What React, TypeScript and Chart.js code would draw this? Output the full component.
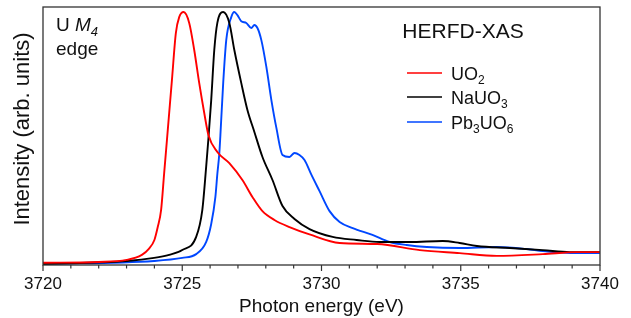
import React, { useEffect, useRef } from 'react';
import { Chart, registerables } from 'chart.js';

Chart.register(...registerables);

const FONT = '"Liberation Sans", Arial, Helvetica, sans-serif';

// ---- data ----
const uo2Energy = [3720.0, 3722.0, 3723.0, 3723.55, 3723.8, 3724.0, 3724.12, 3724.24, 3724.35, 3724.45, 3724.63, 3724.77, 3724.89, 3725.05, 3725.25, 3725.43, 3725.61, 3725.79, 3725.94, 3726.26, 3726.69, 3727.16, 3727.52, 3727.88, 3728.31, 3728.85, 3729.57, 3730.65, 3732.0, 3733.53, 3734.96, 3736.29, 3737.95, 3739.17, 3740.0];
const uo2Intensity = [0.009, 0.012, 0.02, 0.04, 0.064, 0.099, 0.15, 0.217, 0.362, 0.494, 0.732, 0.917, 0.98, 1.0, 0.957, 0.85, 0.719, 0.601, 0.514, 0.447, 0.403, 0.336, 0.269, 0.213, 0.178, 0.15, 0.121, 0.087, 0.083, 0.059, 0.047, 0.036, 0.043, 0.051, 0.051];

const nauo3Energy = [3720.0, 3723.02, 3723.99, 3724.53, 3725.0, 3725.5, 3725.72, 3725.86, 3725.94, 3726.04, 3726.15, 3726.26, 3726.47, 3726.69, 3726.87, 3727.12, 3727.34, 3727.59, 3727.88, 3728.24, 3728.6, 3729.03, 3729.57, 3730.4, 3731.26, 3732.09, 3733.17, 3734.35, 3734.96, 3735.58, 3736.76, 3737.95, 3738.92, 3740.0];
const nauo3Intensity = [0.004, 0.016, 0.028, 0.04, 0.059, 0.111, 0.217, 0.39, 0.5, 0.652, 0.85, 0.957, 1.0, 0.957, 0.85, 0.719, 0.613, 0.526, 0.427, 0.336, 0.233, 0.182, 0.142, 0.111, 0.099, 0.091, 0.091, 0.095, 0.087, 0.075, 0.067, 0.059, 0.051, 0.051];

const pb3uo6Energy = [3720.0, 3723.99, 3725.0, 3725.5, 3725.86, 3726.04, 3726.19, 3726.26, 3726.33, 3726.37, 3726.47, 3726.58, 3726.76, 3726.87, 3726.98, 3727.12, 3727.3, 3727.48, 3727.59, 3727.7, 3727.84, 3728.02, 3728.2, 3728.38, 3728.6, 3728.85, 3729.03, 3729.21, 3729.39, 3729.64, 3729.93, 3730.29, 3730.65, 3731.12, 3731.83, 3732.45, 3733.06, 3733.78, 3734.96, 3736.29, 3737.37, 3737.95, 3739.17, 3740.0];
const pb3uo6Intensity = [0.004, 0.016, 0.028, 0.043, 0.091, 0.162, 0.269, 0.36, 0.44, 0.514, 0.719, 0.889, 0.98, 1.0, 0.988, 0.964, 0.957, 0.937, 0.949, 0.937, 0.889, 0.783, 0.652, 0.542, 0.435, 0.427, 0.443, 0.435, 0.415, 0.356, 0.292, 0.213, 0.17, 0.146, 0.119, 0.091, 0.079, 0.071, 0.067, 0.071, 0.063, 0.055, 0.047, 0.047];

const seriesLabels = ['UO2', 'NaUO3', 'Pb3UO6'];
const seriesColors = ['#ff0000', '#000000', '#0047ff'];
const xMin = 3720;
const xMax = 3740;
const xMajorStep = 5;
const xMinorStep = 1;
const yMin = 0;
const yMax = 1.02;
const xTitle = 'Photon energy (eV)';
const yTitle = 'Intensity (arb. units)';
const plotTitle = 'HERFD-XAS';

type Seg = { t: string; it?: boolean; sub?: boolean };
const edgeLine1: Seg[] = [{ t: 'U ' }, { t: 'M', it: true }, { t: '4', it: true, sub: true }];
const edgeLine2: Seg[] = [{ t: 'edge' }];

function formulaSegs(s: string): Seg[] {
  const out: Seg[] = [];
  const re = /(\d+)|([^\d]+)/g;
  let m: RegExpExecArray | null;
  while ((m = re.exec(s))) out.push(m[1] ? { t: m[1], sub: true } : { t: m[2] });
  return out;
}

function drawSegs(ctx: CanvasRenderingContext2D, segs: Seg[], x: number, y: number, size: number, align: 'left' | 'center' = 'left') {
  const fontFor = (s: Seg) => `${s.it ? 'italic ' : ''}${s.sub ? Math.round(size * 0.68) : size}px ${FONT}`;
  let w = 0;
  for (const s of segs) {
    ctx.font = fontFor(s);
    w += ctx.measureText(s.t).width;
  }
  let cx = align === 'center' ? x - w / 2 : x;
  ctx.textAlign = 'left';
  ctx.textBaseline = 'alphabetic';
  for (const s of segs) {
    ctx.font = fontFor(s);
    ctx.fillText(s.t, cx, y + (s.sub ? size * 0.24 : 0));
    cx += ctx.measureText(s.t).width;
  }
}

const overlay = {
  id: 'overlay',
  afterDraw(chart: any) {
    const { ctx, chartArea: a } = chart;
    const xs = chart.scales.x;
    ctx.save();
    // frame
    ctx.strokeStyle = '#333';
    ctx.lineWidth = 1.3;
    ctx.strokeRect(a.left, a.top, a.right - a.left, a.bottom - a.top);
    // ticks
    ctx.lineWidth = 1.2;
    for (const t of xs.ticks) {
      const v = t.value;
      const px = xs.getPixelForValue(v);
      const major = Math.abs(v / xMajorStep - Math.round(v / xMajorStep)) < 1e-6;
      ctx.beginPath();
      ctx.moveTo(px, a.bottom);
      ctx.lineTo(px, a.bottom + (major ? 6 : 3.5));
      ctx.stroke();
    }
    // y title
    ctx.fillStyle = '#111';
    ctx.save();
    ctx.translate(23, 129);
    ctx.rotate(-Math.PI / 2);
    ctx.font = `22px ${FONT}`;
    ctx.textAlign = 'center';
    ctx.textBaseline = 'middle';
    ctx.fillText(yTitle, 0, 0);
    ctx.restore();
    // annotations
    drawSegs(ctx, edgeLine1, 56, 31, 19);
    drawSegs(ctx, edgeLine2, 56, 55, 19);
    drawSegs(ctx, [{ t: plotTitle }], 463, 38, 21, 'center');
    // legend
    const rows = [73, 97, 122];
    chart.data.datasets.forEach((ds: any, i: number) => {
      const ry = rows[i];
      ctx.strokeStyle = ds.borderColor;
      ctx.lineWidth = 1.6;
      ctx.beginPath();
      ctx.moveTo(407, ry);
      ctx.lineTo(442, ry);
      ctx.stroke();
      ctx.fillStyle = '#111';
      drawSegs(ctx, formulaSegs(ds.label), 451, ry + 6.5, 18);
    });
    ctx.restore();
  },
};

export default function App() {
  const ref = useRef<HTMLCanvasElement | null>(null);
  useEffect(() => {
    document.body.style.margin = '0';
    const energies = [uo2Energy, nauo3Energy, pb3uo6Energy];
    const intens = [uo2Intensity, nauo3Intensity, pb3uo6Intensity];
    const chart = new Chart(ref.current as HTMLCanvasElement, {
      type: 'line',
      data: {
        datasets: seriesLabels.map((label, i) => ({
          label,
          data: energies[i].map((e, j) => ({ x: e, y: intens[i][j] })),
          borderColor: seriesColors[i],
          backgroundColor: seriesColors[i],
          borderWidth: 1.9,
          pointRadius: 0,
          cubicInterpolationMode: 'monotone' as const,
          fill: false,
        })),
      },
      options: {
        animation: false,
        responsive: false,
        devicePixelRatio: 1,
        layout: { padding: { top: 7, right: 31, left: 0, bottom: 0 } },
        plugins: { legend: { display: false }, tooltip: { enabled: false } },
        scales: {
          x: {
            type: 'linear',
            min: xMin,
            max: xMax,
            ticks: {
              stepSize: xMinorStep,
              autoSkip: false,
              maxRotation: 0,
              padding: 2,
              color: '#111',
              font: { family: FONT, size: 17 },
              callback: (v: any) => (Math.abs(v % xMajorStep) < 1e-6 ? String(v) : ''),
            },
            grid: { display: true, drawOnChartArea: false, drawTicks: true, tickLength: 7, tickColor: 'rgba(0,0,0,0)' },
            border: { display: false },
            title: { display: true, text: xTitle, color: '#111', font: { family: FONT, size: 19 }, padding: { top: 0, bottom: 0 } },
            afterFit: (s: any) => { s.height = 53; },
          },
          y: {
            min: yMin,
            max: yMax,
            ticks: { display: false },
            grid: { display: false },
            border: { display: false },
            title: { display: false },
            afterFit: (s: any) => { s.width = 43; },
          },
        },
      },
      plugins: [overlay],
    } as any);
    return () => chart.destroy();
  }, []);
  return (
    <div style={{ width: 631, height: 318 }}>
      <canvas ref={ref} width={631} height={318} />
    </div>
  );
}
